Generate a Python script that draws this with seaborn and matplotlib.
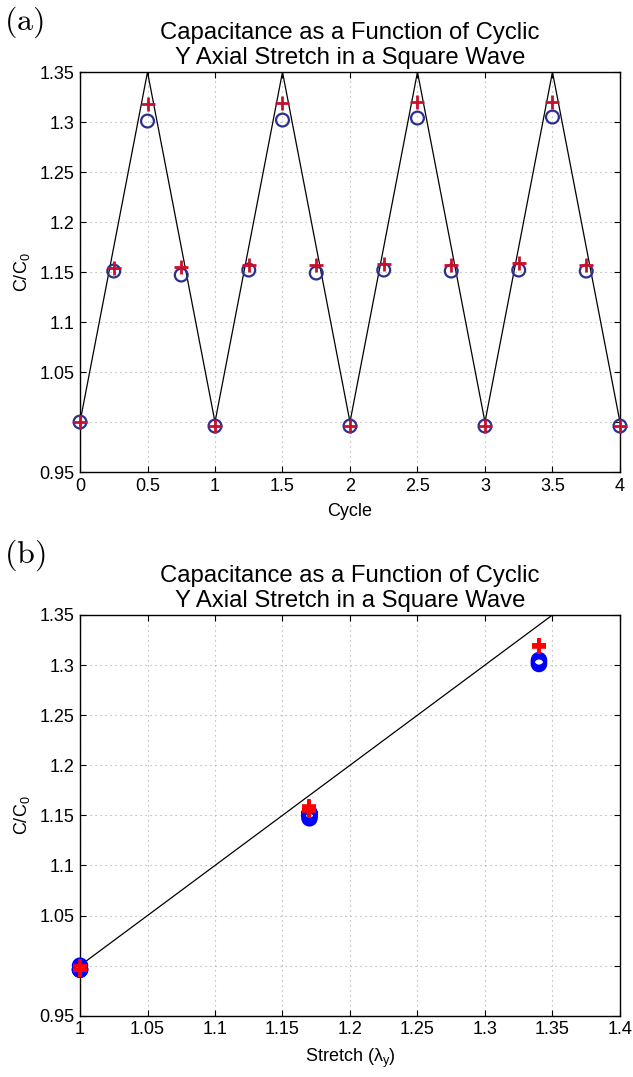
import numpy as np
import pandas as pd
import seaborn as sns
import matplotlib
matplotlib.use("Agg")
import matplotlib.pyplot as plt

# ---- data -------------------------------------------------------------
cycle = [0.0, 0.25, 0.5, 0.75, 1.0, 1.25, 1.5, 1.75, 2.0,
         2.25, 2.5, 2.75, 3.0, 3.25, 3.5, 3.75, 4.0]
stretch = [1.0, 1.17, 1.34, 1.17, 1.0, 1.17, 1.34, 1.17, 1.0,
           1.17, 1.34, 1.17, 1.0, 1.17, 1.34, 1.17, 1.0]
cap_plus = [1.000, 1.154, 1.318, 1.155, 0.996, 1.157, 1.319, 1.157, 0.996,
            1.158, 1.320, 1.157, 0.996, 1.159, 1.320, 1.157, 0.996]
cap_circ = [1.000, 1.151, 1.301, 1.147, 0.996, 1.152, 1.302, 1.149, 0.996,
            1.152, 1.304, 1.151, 0.996, 1.152, 1.305, 1.151, 0.996]

# applied stretch profile (triangle wave) and ideal C/C0 = lambda line
wave_cycle = [0.0, 0.5, 1.0, 1.5, 2.0, 2.5, 3.0, 3.5, 4.0]
wave_level = [1.0, 1.35, 1.0, 1.35, 1.0, 1.35, 1.0, 1.35, 1.0]
ideal_x = [1.0, 1.35]
ideal_y = [1.0, 1.35]

y_ticks = [0.95, 1.0, 1.05, 1.1, 1.15, 1.2, 1.25, 1.3, 1.35]
y_ticklabels = ["0.95", "", "1.05", "1.1", "1.15", "1.2", "1.25", "1.3", "1.35"]
xa_ticks = [0, 0.5, 1, 1.5, 2, 2.5, 3, 3.5, 4]
xa_ticklabels = ["0", "0.5", "1", "1.5", "2", "2.5", "3", "3.5", "4"]
xb_ticks = [1.0, 1.05, 1.1, 1.15, 1.2, 1.25, 1.3, 1.35, 1.4]
xb_ticklabels = ["1", "1.05", "1.1", "1.15", "1.2", "1.25", "1.3", "1.35", "1.4"]

title = "Capacitance as a Function of Cyclic\nY Axial Stretch in a Square Wave"

df = pd.DataFrame({"cycle": cycle, "stretch": stretch,
                   "plus": cap_plus, "circ": cap_circ})
wave = pd.DataFrame({"x": wave_cycle, "y": wave_level})
ideal = pd.DataFrame({"x": ideal_x, "y": ideal_y})

# ---- style ------------------------------------------------------------
sns.set_theme(style="ticks")
plt.rcParams["font.family"] = ["Liberation Sans", "DejaVu Sans"]
plt.rcParams["text.color"] = "black"
plt.rcParams["axes.labelcolor"] = "black"
plt.rcParams["mathtext.fontset"] = "custom"
plt.rcParams["mathtext.rm"] = "Liberation Sans"
plt.rcParams["mathtext.it"] = "Liberation Sans:italic"
plt.rcParams["mathtext.default"] = "regular"

fig = plt.figure(figsize=(6.33, 10.77), dpi=100)
ax_a = fig.add_axes([0.1264, 0.5617, 0.853, 0.3714])
ax_b = fig.add_axes([0.1264, 0.0569, 0.853, 0.3721])


def style_axes(ax, xticks, xlabels):
    ax.set_ylim(0.95, 1.35)
    ax.set_yticks(y_ticks)
    ax.set_yticklabels(y_ticklabels)
    ax.set_xticks(xticks)
    ax.set_xticklabels(xlabels)
    ax.tick_params(direction="in", length=4, width=0.8, labelsize=13,
                   top=True, right=True, colors="black", pad=4)
    ax.grid(True, linestyle=(0, (1, 3.5)), color="#a8a8a8", linewidth=0.8)
    for sp in ax.spines.values():
        sp.set_visible(True)
        sp.set_color("black")
        sp.set_linewidth(1.0)
    ax.set_ylabel(r"C/C$_{0}$", fontsize=13, labelpad=5, color="black")
    ax.set_title(title, fontsize=17.2, linespacing=1.15, pad=6, color="black")


# ---- panel (a): C/C0 versus cycle --------------------------------------
sns.lineplot(data=wave, x="x", y="y", ax=ax_a, color="black",
             linewidth=0.9, legend=False)
sns.scatterplot(data=df, x="cycle", y="circ", ax=ax_a, marker="o",
                s=85, facecolors="none", edgecolor="#2b2f8f",
                linewidth=1.6, zorder=3, clip_on=False)
sns.scatterplot(data=df, x="cycle", y="plus", ax=ax_a, marker="+",
                s=90, color="#c8102e", linewidth=2.0, zorder=4,
                clip_on=False)
ax_a.set_xlim(0, 4)
style_axes(ax_a, xa_ticks, xa_ticklabels)
ax_a.set_xlabel("Cycle", fontsize=13, labelpad=6, color="black")

# ---- panel (b): C/C0 versus stretch ------------------------------------
sns.lineplot(data=ideal, x="x", y="y", ax=ax_b, color="black",
             linewidth=0.9, legend=False)
sns.scatterplot(data=df, x="stretch", y="circ", ax=ax_b, marker="o",
                s=85, facecolors="none", edgecolor="#0000ff",
                linewidth=2.6, zorder=3, clip_on=False)
sns.scatterplot(data=df, x="stretch", y="plus", ax=ax_b, marker="+",
                s=90, color="#ff0000", linewidth=2.6, zorder=4,
                clip_on=False)
ax_b.set_xlim(1.0, 1.4)
style_axes(ax_b, xb_ticks, xb_ticklabels)
ax_b.set_xlabel(r"Stretch ($\lambda_{y}$)", fontsize=13, labelpad=6,
                color="black")

# panel tags
fig.text(0.006, 0.979, r"$\mathrm{(a)}$", fontsize=23, math_fontfamily="cm",
         ha="left", va="center")
fig.text(0.006, 0.484, r"$\mathrm{(b)}$", fontsize=23, math_fontfamily="cm",
         ha="left", va="center")

fig.savefig("out.png", dpi=100)
